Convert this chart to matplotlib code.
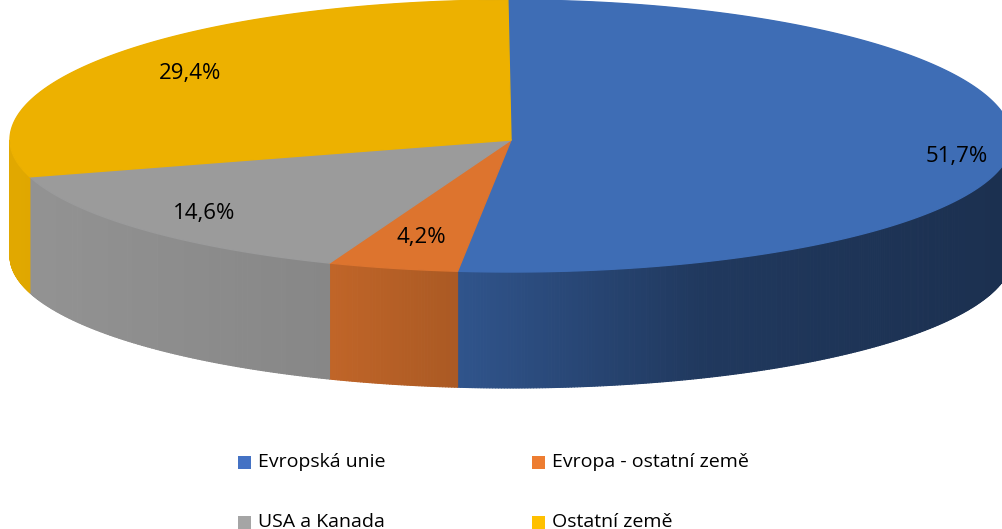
import numpy as np
import matplotlib
matplotlib.use("Agg")
import matplotlib.pyplot as plt
from matplotlib.patches import Polygon, Rectangle
from matplotlib.collections import PolyCollection
from matplotlib.colors import to_rgb

# data
categories = ["Evropská unie", "Evropa - ostatní země", "USA a Kanada", "Ostatní země"]
shares = [51.7, 4.2, 14.6, 29.4]
value_labels = ["51,7%", "4,2%", "14,6%", "29,4%"]
top_colors = ["#3E6DB5", "#DD742E", "#9B9B9B", "#EDB100"]
legend_colors = ["#4472C4", "#ED7D31", "#A5A5A5", "#FFC000"]

plt.rcParams['font.family'] = ['Open Sans', 'DejaVu Sans']

# pie geometry in pixels (screen y goes down)
CX, CY = 511, 140
RX, RY_FAR, RY_NEAR = 501, 140, 132
DEPTH = 116


def proj(theta, z=0.0, r=1.0):
    # theta in degrees, measured clockwise from 12 o'clock
    t = np.radians(theta)
    c = np.cos(t)
    ry = np.where(c > 0, RY_FAR, RY_NEAR)
    x = CX + r * RX * np.sin(t)
    y = CY - r * ry * c + z * DEPTH
    return x, y


def side_shade(x):
    # lighter on the left, darker towards the right
    return np.interp(x, [10, 330, 460, 700, 1003], [0.95, 0.87, 0.77, 0.52, 0.44])


fig = plt.figure(figsize=(10.03, 5.29), dpi=100)
ax = fig.add_axes([0, 0, 1, 1])
ax.set_xlim(0, 1003)
ax.set_ylim(529, 0)
ax.axis('off')

bounds = np.concatenate([[0], np.cumsum(shares)]) / 100 * 360

# sides (only the front half is visible)
for i in range(len(shares)):
    a0, a1 = max(bounds[i], 90), min(bounds[i + 1], 270)
    if a1 <= a0:
        continue
    angs = np.linspace(a0, a1, max(int((a1 - a0) * 3), 2))
    base = np.array(to_rgb(top_colors[i]))
    quads, cols = [], []
    for j in range(len(angs) - 1):
        xa, ya = proj(angs[j])
        xb, yb = proj(angs[j + 1])
        quads.append([(xa, ya), (xb, yb), (xb, yb + DEPTH), (xa, ya + DEPTH)])
        f = side_shade((xa + xb) / 2)
        cols.append(np.clip(base * f, 0, 1))
    ax.add_collection(PolyCollection(quads, facecolors=cols, edgecolors=cols, linewidths=0.8))

# underlay so no background shows through the slice seams
full = np.linspace(0, 360, 720)
ux, uy = proj(full)
ax.add_patch(Polygon(np.column_stack([ux, uy]), closed=True, facecolor=top_colors[0],
                     edgecolor='none'))

# top faces
for i in range(len(shares)):
    angs = np.linspace(bounds[i], bounds[i + 1], 300)
    xs, ys = proj(angs)
    pts = np.column_stack([np.r_[CX, xs], np.r_[CY, ys]])
    ax.add_patch(Polygon(pts, closed=True, facecolor=top_colors[i],
                         edgecolor=top_colors[i], linewidth=1.0, joinstyle='round'))

# value labels
label_r = [0.89, 0.76, 0.83, 0.80]
label_dy = [10, 0, 0, 0]
for i, lab in enumerate(value_labels):
    mid = (bounds[i] + bounds[i + 1]) / 2
    lx, ly = proj(mid, r=label_r[i])
    ax.text(lx, ly + label_dy[i], lab, fontsize=16, ha='center', va='center', color='black')

# legend, two rows
legend_order = [0, 1, 2, 3]
col_x = [238, 532]
row_y = [462, 522]
for k, i in enumerate(legend_order):
    x0 = col_x[k % 2]
    y0 = row_y[k // 2]
    ax.add_patch(Rectangle((x0, y0 - 6.5), 13, 13, facecolor=legend_colors[i], edgecolor='none'))
    ax.text(x0 + 20, y0, categories[i], fontsize=14, ha='left', va='center', color='black')

fig.savefig("out.png", dpi=100)
